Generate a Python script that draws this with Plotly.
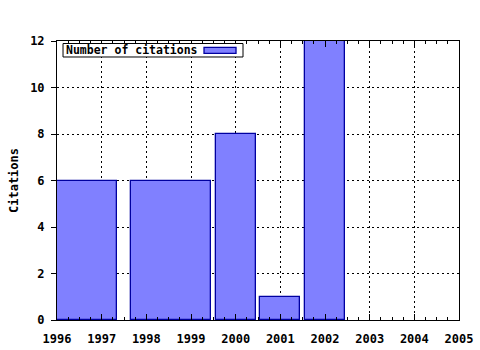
import plotly.graph_objects as go

# Data
bar_centers = [1996.45, 1998.55, 2000.0, 2001.0, 2002.0]
bar_widths = [1.8, 1.8, 0.9, 0.9, 0.9]
citations = [6, 6, 8, 1, 12]
x_tick_vals = [1996, 1997, 1998, 1999, 2000, 2001, 2002, 2003, 2004, 2005]
y_tick_vals = [0, 2, 4, 6, 8, 10, 12]
series_name = "Number of citations"
y_title = "Citations"

FONT = "DejaVu Sans Mono"
FILL = "#8080ff"
EDGE = "#0000a0"

fig = go.Figure()
fig.add_trace(go.Bar(
    x=bar_centers, y=citations, width=bar_widths,
    marker=dict(color=FILL, line=dict(color=EDGE, width=1.3)),
    name=series_name, showlegend=False,
))

fig.update_layout(
    width=480, height=350,
    margin=dict(l=57, r=21, t=41, b=30),
    paper_bgcolor="white", plot_bgcolor="white",
    font=dict(family=FONT, size=11, color="black", weight="bold"),
    bargap=0,
    xaxis=dict(
        range=[1996, 2005], tickvals=x_tick_vals,
        ticktext=[str(v) for v in x_tick_vals],
        showgrid=True, gridcolor="black", griddash="2px,3px", gridwidth=1,
        showline=True, linecolor="black", linewidth=1, mirror="allticks",
        ticks="inside", ticklen=6, tickcolor="black",
        minor=dict(dtick=0.25, ticks="inside", ticklen=3, tickcolor="black", showgrid=False),
        tickfont=dict(family=FONT, size=12, weight="bold"),
        zeroline=False, ticklabelstandoff=8, automargin=False,
    ),
    yaxis=dict(
        range=[0, 12], tickvals=y_tick_vals,
        showgrid=True, gridcolor="black", griddash="2px,3px", gridwidth=1,
        showline=True, linecolor="black", linewidth=1, mirror=True,
        ticks="outside", ticklen=5, tickcolor="black",
        tickfont=dict(family=FONT, size=12, weight="bold"),
        zeroline=False, ticklabelstandoff=4, automargin=False,
        title=dict(text=y_title, font=dict(family=FONT, size=12, weight="bold"), standoff=8),
    ),
)

# Manual legend (text left, swatch right, gnuplot style)
fig.add_shape(type="rect", xref="paper", yref="paper",
              x0=0.015, x1=0.4627, y0=0.9427, y1=0.991,
              line=dict(color="black", width=1), fillcolor="white", layer="above")
fig.add_shape(type="rect", xref="paper", yref="paper",
              x0=0.3657, x1=0.4453, y0=0.956, y1=0.977,
              line=dict(color=EDGE, width=1.3), fillcolor=FILL, layer="above")
fig.add_annotation(text=series_name, xref="paper", yref="paper",
                   x=0.0174, y=0.967, xanchor="left", yanchor="middle",
                   showarrow=False,
                   font=dict(family=FONT, size=11.5, weight="bold", color="black"))

fig.write_html("out.html")
